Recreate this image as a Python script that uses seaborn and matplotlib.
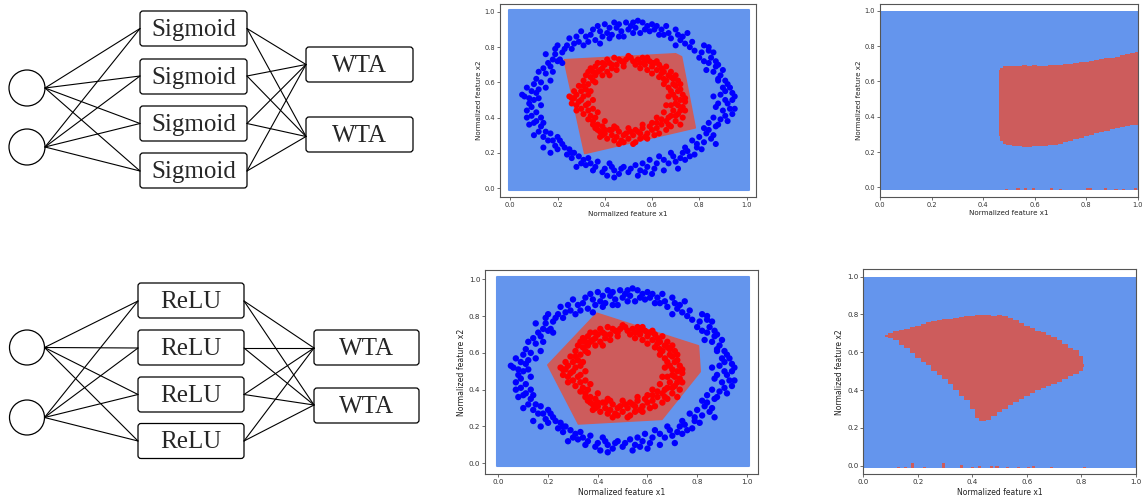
import matplotlib
matplotlib.use("Agg")
import matplotlib.pyplot as plt
from matplotlib.patches import Circle, FancyBboxPatch
import numpy as np
import pandas as pd
import seaborn as sns

# ---- data ----
top_hidden_label = "Sigmoid"
bottom_hidden_label = "ReLU"
output_label = "WTA"
n_hidden = 4
n_out = 2

outer_pts = [
    (0.37,0.92),(0.40,0.93),(0.44,0.94),(0.45,0.91),(0.46,0.93),(0.49,0.94),(0.51,0.92),(0.52,0.94),
    (0.54,0.95),(0.56,0.94),(0.58,0.92),(0.59,0.89),(0.61,0.90),(0.63,0.87),(0.65,0.87),(0.67,0.88),
    (0.70,0.90),(0.75,0.88),(0.72,0.84),(0.74,0.82),(0.70,0.81),(0.76,0.80),(0.77,0.83),(0.82,0.81),
    (0.84,0.80),(0.84,0.78),(0.81,0.77),(0.86,0.77),(0.82,0.72),(0.84,0.71),(0.87,0.72),(0.83,0.67),
    (0.87,0.69),(0.90,0.67),(0.89,0.64),(0.91,0.61),(0.88,0.61),(0.93,0.57),(0.94,0.54),(0.91,0.55),
    (0.89,0.53),(0.94,0.50),(0.95,0.52),(0.91,0.50),(0.93,0.45),(0.95,0.45),(0.87,0.46),(0.91,0.41),
    (0.89,0.39),(0.86,0.40),(0.87,0.35),(0.84,0.33),(0.82,0.34),(0.83,0.31),(0.86,0.30),(0.80,0.29),
    (0.79,0.25),(0.82,0.26),(0.87,0.25),(0.79,0.23),(0.75,0.21),(0.73,0.20),(0.76,0.18),(0.72,0.17),
    (0.70,0.15),(0.74,0.16),(0.68,0.20),(0.67,0.14),(0.71,0.11),(0.62,0.14),(0.63,0.18),(0.59,0.16),
    (0.58,0.12),(0.56,0.14),(0.55,0.10),(0.53,0.13),(0.51,0.11),(0.48,0.12),(0.46,0.08),(0.44,0.10),
    (0.42,0.14),(0.41,0.07),(0.44,0.06),(0.39,0.09),(0.36,0.12),(0.34,0.14),(0.32,0.13),(0.31,0.16),
    (0.29,0.18),(0.28,0.12),(0.27,0.20),(0.25,0.22),(0.23,0.23),(0.22,0.25),(0.20,0.22),(0.21,0.27),
    (0.20,0.29),(0.17,0.31),(0.15,0.32),(0.14,0.29),(0.13,0.35),(0.10,0.37),(0.09,0.41),(0.08,0.36),
    (0.10,0.30),(0.14,0.23),(0.17,0.20),(0.07,0.44),(0.09,0.46),(0.06,0.52),(0.08,0.51),(0.11,0.54),
    (0.12,0.56),(0.12,0.51),(0.15,0.57),(0.17,0.61),(0.15,0.65),(0.18,0.66),(0.17,0.69),(0.20,0.72),
    (0.16,0.71),(0.21,0.73),(0.22,0.71),(0.22,0.77),(0.19,0.79),(0.20,0.81),(0.24,0.81),(0.27,0.82),
    (0.29,0.83),(0.31,0.81),(0.32,0.86),(0.34,0.87),(0.36,0.84),(0.39,0.86),(0.41,0.88),(0.43,0.87),
    (0.48,0.86),(0.52,0.88),(0.55,0.88),(0.15,0.76),(0.12,0.66),(0.05,0.53),(0.10,0.59),(0.07,0.57),
    (0.26,0.20),(0.35,0.10),(0.60,0.08),(0.65,0.10),(0.78,0.19),(0.88,0.62),(0.92,0.48),(0.60,0.93),
    (0.66,0.92),(0.30,0.89),(0.25,0.85),(0.11,0.43),(0.13,0.40),
    (0.38,0.89),(0.42,0.91),(0.47,0.89),(0.50,0.90),(0.53,0.91),(0.57,0.90),(0.62,0.92),(0.64,0.90),
    (0.68,0.85),(0.71,0.87),(0.73,0.86),(0.78,0.78),(0.80,0.74),(0.85,0.74),(0.88,0.70),(0.86,0.66),
    (0.92,0.59),(0.90,0.57),(0.86,0.52),(0.88,0.48),(0.90,0.44),(0.94,0.42),(0.92,0.38),(0.88,0.36),
    (0.84,0.37),(0.85,0.28),(0.81,0.22),(0.77,0.27),(0.74,0.23),(0.69,0.18),(0.65,0.16),(0.61,0.11),
    (0.57,0.09),(0.54,0.07),(0.50,0.09),(0.47,0.11),(0.43,0.12),(0.40,0.11),(0.37,0.15),(0.33,0.17),
    (0.30,0.14),(0.26,0.17),(0.24,0.19),(0.19,0.24),(0.18,0.27),(0.16,0.27),(0.12,0.32),(0.11,0.38),
    (0.14,0.37),(0.07,0.40),(0.08,0.48),(0.10,0.50),(0.13,0.47),(0.09,0.55),(0.13,0.60),(0.11,0.62),
    (0.14,0.68),(0.18,0.73),(0.19,0.76),(0.23,0.79),(0.26,0.79),(0.28,0.86),(0.33,0.83),(0.35,0.90),
    (0.38,0.82),(0.42,0.85),(0.46,0.86),
]
inner_pts = [
    (0.40,0.70),(0.42,0.71),(0.44,0.74),(0.45,0.70),(0.47,0.72),(0.49,0.73),(0.50,0.75),(0.51,0.74),
    (0.52,0.72),(0.54,0.73),(0.55,0.71),(0.56,0.74),(0.57,0.70),(0.59,0.72),(0.60,0.69),(0.61,0.71),
    (0.63,0.70),(0.62,0.67),(0.64,0.68),(0.65,0.66),(0.66,0.69),(0.67,0.64),(0.68,0.66),(0.69,0.62),
    (0.70,0.64),(0.66,0.61),(0.70,0.58),(0.72,0.59),(0.67,0.57),(0.71,0.55),(0.73,0.53),(0.69,0.53),
    (0.72,0.50),(0.74,0.49),(0.70,0.48),(0.73,0.46),(0.69,0.44),(0.71,0.42),(0.73,0.40),(0.68,0.41),
    (0.70,0.38),(0.66,0.38),(0.68,0.35),(0.64,0.36),(0.66,0.33),(0.62,0.34),(0.63,0.31),(0.60,0.33),
    (0.61,0.30),(0.58,0.31),(0.56,0.34),(0.57,0.29),(0.54,0.32),(0.55,0.28),(0.52,0.30),(0.53,0.26),
    (0.50,0.28),(0.51,0.32),(0.48,0.30),(0.47,0.27),(0.46,0.32),(0.45,0.29),(0.43,0.30),(0.42,0.33),
    (0.41,0.28),(0.40,0.31),(0.39,0.35),(0.38,0.32),(0.37,0.36),(0.36,0.34),(0.35,0.38),(0.34,0.41),
    (0.36,0.40),(0.33,0.44),(0.35,0.45),(0.32,0.47),(0.30,0.45),(0.29,0.49),(0.27,0.51),(0.25,0.52),
    (0.28,0.47),(0.31,0.52),(0.30,0.55),(0.32,0.56),(0.29,0.58),(0.33,0.59),(0.31,0.61),(0.34,0.63),
    (0.32,0.64),(0.35,0.66),(0.34,0.68),(0.36,0.69),(0.38,0.67),(0.37,0.71),(0.39,0.68),(0.41,0.66),
    (0.43,0.68),(0.45,0.67),(0.48,0.69),(0.55,0.68),(0.58,0.67),(0.60,0.65),(0.63,0.63),(0.65,0.59),
    (0.67,0.52),(0.66,0.47),(0.65,0.43),(0.62,0.40),(0.60,0.37),(0.56,0.36),(0.50,0.34),(0.44,0.35),
    (0.40,0.38),(0.37,0.43),(0.35,0.50),(0.34,0.55),(0.36,0.60),(0.39,0.64),(0.58,0.74),(0.26,0.48),
    (0.27,0.55),(0.74,0.44),(0.72,0.36),(0.46,0.25),(0.52,0.25),(0.38,0.29),
    (0.41,0.73),(0.43,0.70),(0.46,0.73),(0.48,0.71),(0.53,0.70),(0.57,0.72),(0.62,0.72),(0.64,0.65),
    (0.68,0.63),(0.69,0.59),(0.71,0.61),(0.68,0.55),(0.72,0.56),(0.70,0.51),(0.68,0.47),(0.72,0.44),
    (0.70,0.41),(0.67,0.40),(0.64,0.39),(0.62,0.37),(0.59,0.35),(0.58,0.28),(0.55,0.31),(0.53,0.33),
    (0.49,0.31),(0.48,0.26),(0.44,0.27),(0.43,0.33),(0.40,0.33),(0.39,0.30),(0.37,0.33),(0.35,0.36),
    (0.33,0.39),(0.31,0.42),(0.33,0.48),(0.30,0.50),(0.28,0.53),(0.33,0.53),(0.31,0.58),(0.35,0.61),
    (0.33,0.66),(0.36,0.64),(0.37,0.66),(0.39,0.71),(0.42,0.64),(0.60,0.71),(0.65,0.62),(0.74,0.51),
    (0.71,0.47),(0.67,0.36),(0.45,0.34),(0.26,0.51),(0.28,0.44),
]

# background grid extent of the middle plots
bg_x = [-0.005, 1.01]
bg_y = [-0.013, 1.01]

# linear-layer regions (polygons)
sig_poly_x = [0.228, 0.700, 0.725, 0.783, 0.315]
sig_poly_y = [0.728, 0.762, 0.745, 0.342, 0.196]
relu_poly_x = [0.199, 0.396, 0.805, 0.812, 0.658, 0.322]
relu_poly_y = [0.534, 0.815, 0.638, 0.498, 0.239, 0.214]

# decision maps (right column)
map_x = [0.0, 1.0]
map_y = [-0.015, 1.0]

sig_map_x = [0.462,0.47,0.48,0.50,0.52,0.54,0.56,0.58,0.60,0.62,0.64,0.66,0.68,0.70,0.72,
             0.74,0.76,0.78,0.80,0.82,0.84,0.86,0.88,0.90,0.92,0.94,0.96,0.98,1.0]
sig_map_hi = [0.665,0.675,0.685,0.688,0.688,0.688,0.69,0.688,0.69,0.688,0.688,0.69,0.692,0.695,0.697,
              0.70,0.703,0.708,0.712,0.715,0.72,0.725,0.73,0.735,0.74,0.748,0.755,0.762,0.765]
sig_map_lo = [0.29,0.26,0.245,0.238,0.235,0.232,0.228,0.228,0.232,0.236,0.236,0.238,0.242,0.248,0.255,
              0.262,0.272,0.28,0.288,0.298,0.305,0.312,0.32,0.328,0.336,0.342,0.348,0.352,0.355]
sig_noise_x = [0.49, 0.535, 0.565, 0.595, 0.665, 0.70, 0.805, 0.815, 0.875, 0.915, 0.945, 0.99]
sig_noise_h = [0.006, 0.012, 0.012, 0.01, 0.01, 0.006, 0.012, 0.012, 0.01, 0.008, 0.008, 0.01]

relu_map_x = [0.08,0.10,0.12,0.14,0.16,0.18,0.20,0.22,0.24,0.26,0.28,0.30,0.32,0.34,0.36,0.38,0.40,
              0.42,0.43,0.44,0.46,0.48,0.50,0.52,0.54,0.56,0.58,0.60,0.62,0.64,0.66,0.68,0.70,0.72,
              0.74,0.76,0.78,0.80,0.81]
relu_map_hi = [0.69,0.70,0.71,0.72,0.725,0.735,0.74,0.75,0.76,0.765,0.77,0.775,0.775,0.78,0.785,0.79,
               0.79,0.795,0.795,0.795,0.795,0.79,0.795,0.79,0.78,0.77,0.755,0.74,0.73,0.715,0.705,
               0.69,0.68,0.665,0.645,0.625,0.61,0.58,0.54]
relu_map_lo = [0.68,0.675,0.665,0.64,0.62,0.595,0.57,0.55,0.53,0.50,0.48,0.46,0.43,0.40,0.37,0.345,
               0.30,0.25,0.235,0.235,0.24,0.265,0.285,0.30,0.32,0.335,0.35,0.37,0.385,0.40,0.41,
               0.42,0.43,0.445,0.46,0.475,0.485,0.50,0.52]
relu_noise_x = [0.13, 0.155, 0.18, 0.225, 0.295, 0.36, 0.40, 0.425, 0.47, 0.49, 0.53, 0.57, 0.605,
                0.625, 0.69, 0.81]
relu_noise_h = [0.008, 0.01, 0.028, 0.008, 0.03, 0.018, 0.01, 0.012, 0.014, 0.014, 0.01, 0.01,
                0.01, 0.012, 0.01, 0.006]

BG_BLUE = "#6495ed"
REGION_RED = "#cd5c5c"

sns.set_theme(style="ticks")
plt.rcParams["font.family"] = ["DejaVu Sans"]

fig = plt.figure(figsize=(11.44, 4.98), dpi=100)

# ---- network diagrams, drawn in pixel coordinates ----
axd = fig.add_axes([0, 0, 1, 1])
axd.set_xlim(0, 1144)
axd.set_ylim(498, 0)
axd.axis("off")


def draw_net(ax, label, in_y, r, hx, hw, h_tops, h_conn, ox, ow, o_tops, o_conn, bh=35):
    for y in in_y:
        ax.add_patch(Circle((27, y), r, fill=False, lw=0.9, ec="black"))
        for yc in h_conn:
            ax.plot([27 + r, hx], [y, yc], color="black", lw=0.8)
    for i in range(n_hidden):
        ax.add_patch(FancyBboxPatch((hx, h_tops[i]), hw, bh,
                                    boxstyle="round,pad=0,rounding_size=3",
                                    fc="white", ec="black", lw=0.9))
        ax.text(hx + hw / 2, h_tops[i] + bh / 2 + 1, label, ha="center", va="center",
                fontsize=18, family="Liberation Serif")
        for yo in o_conn:
            ax.plot([hx + hw, ox], [h_conn[i], yo], color="black", lw=0.8)
    for j in range(n_out):
        ax.add_patch(FancyBboxPatch((ox, o_tops[j]), ow, bh,
                                    boxstyle="round,pad=0,rounding_size=3",
                                    fc="white", ec="black", lw=0.9))
        ax.text(ox + ow / 2, o_tops[j] + bh / 2 + 1, output_label, ha="center", va="center",
                fontsize=18, family="Liberation Serif")


draw_net(axd, top_hidden_label, [88, 147], 18, 140, 107, [11, 59, 106, 153],
         [28.5, 76, 123.5, 171], 306, 107, [47, 117], [64.5, 136.5])
draw_net(axd, bottom_hidden_label, [347.5, 417.5], 17.5, 138, 106, [283, 330, 377, 423.5],
         [301, 348, 394.5, 441], 314, 105, [330, 388], [348, 405])

# ---- scatter data ----
pts = pd.DataFrame(
    [(x, y, "outer") for x, y in outer_pts] + [(x, y, "inner") for x, y in inner_pts],
    columns=["x1", "x2", "cls"],
)
palette = {"outer": "#0000ff", "inner": "#ff0000"}


def style_axes(ax, xlim, ylim, fs):
    ax.set_xlim(*xlim)
    ax.set_ylim(*ylim)
    ticks = [0.0, 0.2, 0.4, 0.6, 0.8, 1.0]
    ax.set_xticks(ticks)
    ax.set_yticks(ticks)
    ax.tick_params(length=2, width=0.5, labelsize=fs * 0.93, pad=1.5, colors="#333333")
    ax.set_xlabel("Normalized feature x1", fontsize=fs, labelpad=2, color="#222222")
    ax.set_ylabel("Normalized feature x2", fontsize=fs, labelpad=2, color="#222222")
    for sp in ax.spines.values():
        sp.set_visible(True)
        sp.set_linewidth(0.8)
        sp.set_color("#555555")


def middle_plot(rect, poly_x, poly_y, xlim, ylim, fs, s):
    ax = fig.add_axes(rect)
    ax.fill_between(bg_x, bg_y[0], bg_y[1], color=BG_BLUE, lw=1.5, joinstyle="round")
    ax.fill(poly_x, poly_y, color=REGION_RED, lw=1.2, joinstyle="round")
    sns.scatterplot(data=pts, x="x1", y="x2", hue="cls", palette=palette, s=s,
                    linewidth=0, legend=False, ax=ax, zorder=3)
    style_axes(ax, xlim, ylim, fs)
    return ax


def map_plot(rect, rx, rlo, rhi, nx, nh, xlim, ylim, fs):
    ax = fig.add_axes(rect)
    ax.fill_between(map_x, map_y[0], map_y[1], color=BG_BLUE, lw=0)
    ax.fill_between(rx, rlo, rhi, step="mid", color=REGION_RED, lw=0)
    ax.bar(nx, nh, width=0.012, bottom=map_y[0], color=REGION_RED, lw=0)
    style_axes(ax, xlim, ylim, fs)
    return ax


middle_plot([0.437, 0.6044, 0.2238, 0.3876], sig_poly_x, sig_poly_y,
            (-0.044, 1.04), (-0.051, 1.045), 5.1, 19)
middle_plot([0.424, 0.0482, 0.2386, 0.4096], relu_poly_x, relu_poly_y,
            (-0.054, 1.045), (-0.058, 1.05), 5.6, 21)
map_plot([0.7692, 0.605, 0.2255, 0.387], sig_map_x, sig_map_lo, sig_map_hi,
         sig_noise_x, sig_noise_h, (0.0, 1.0), (-0.053, 1.038), 5.1)
map_plot([0.7546, 0.0476, 0.2384, 0.4116], relu_map_x, relu_map_lo, relu_map_hi,
         relu_noise_x, relu_noise_h, (0.0, 1.0), (-0.046, 1.039), 5.5)

fig.savefig("out.png", dpi=100)
